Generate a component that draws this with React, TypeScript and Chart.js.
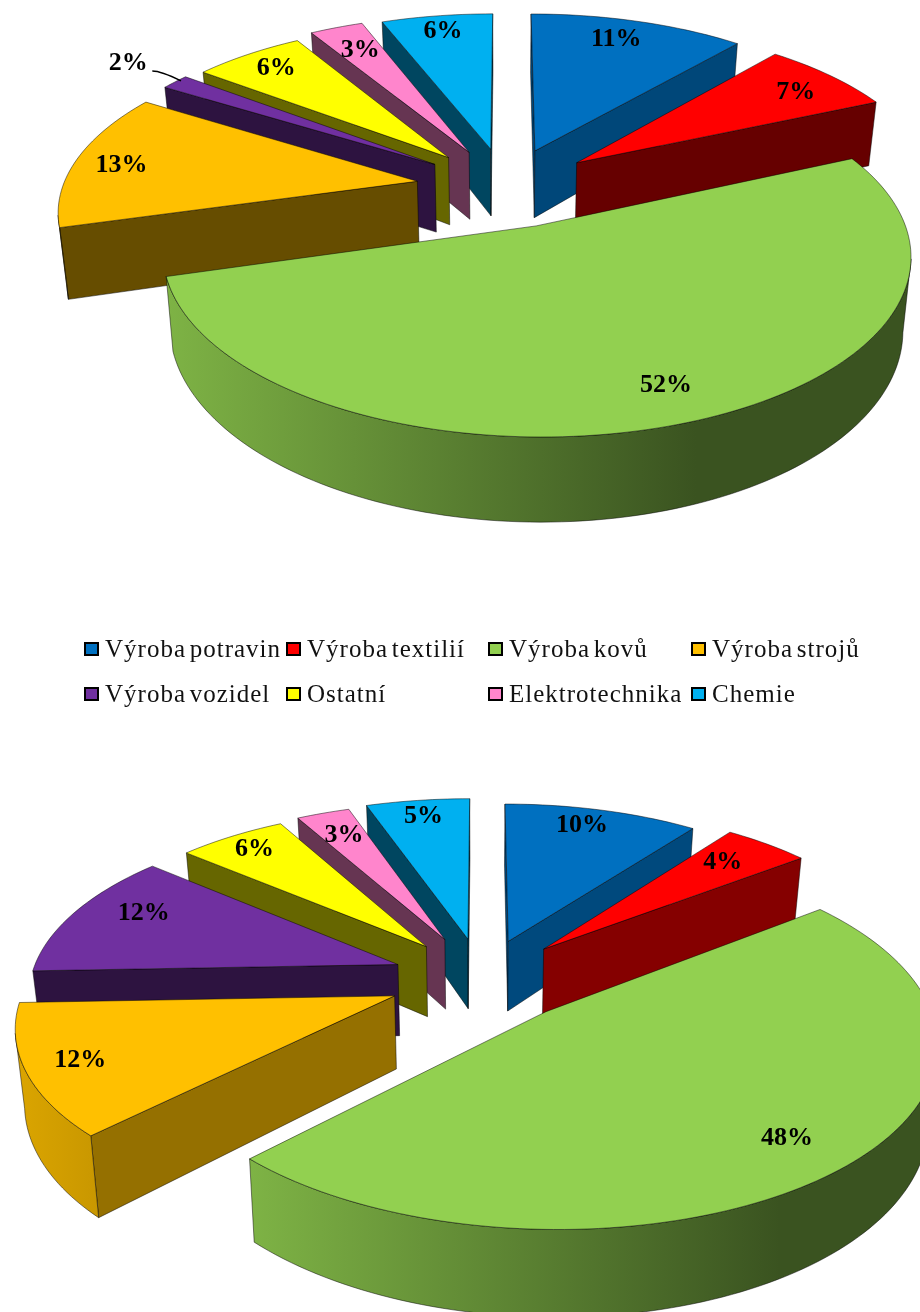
import React, { useEffect, useRef } from "react";
import { Chart, registerables } from "chart.js";

Chart.register(...registerables);

const categories = ["Výroba potravin", "Výroba textilií", "Výroba kovů", "Výroba strojů", "Výroba vozidel", "Ostatní", "Elektrotechnika", "Chemie"];
const valuesTop = [11.3, 7.1, 52.2, 13.2, 1.5, 6, 2.8, 5.9];
const valuesBottom = [10.2, 4.4, 47.8, 12, 11.8, 5.7, 2.8, 5.3];
const sliceColors = ["#0070C0", "#FF0000", "#92D050", "#FFC000", "#7030A0", "#FFFF00", "#FF85CC", "#00B0F0"];
const wallShadeTop = [0.63, 0.4, 0.4, 0.4, 0.4, 0.4, 0.4, 0.4];
const wallShadeBottom = [0.65, 0.52, 0.4, 0.585, 0.4, 0.4, 0.4, 0.4];
const labelRadiusTop = [0.84, 0.83, 0.84, 0.86, 1.22, 0.85, 0.8, 0.87];
const labelRadiusBottom = [0.86, 0.8, 0.83, 0.86, 0.81, 0.87, 0.81, 0.87];
const labelSpreadTop = [0.46, 0.57, 0.495, 0.47, 0.7, 0.51, 0.5, 0.5];
const labelSpreadBottom = [0.45, 0.45, 0.5, 0.5, 0.6, 0.5, 0.5, 0.5];
const explodeTop = [86, 90, 86, 90, 88, 88, 86, 86];
const explodeBottom = [86, 90, 94, 94, 90, 90, 94, 88];
const radiusTop = [1.01, 1, 0.99, 0.985, 0.99, 0.975, 1.01, 1];
const radiusBottom = [1, 1.025, 1.04, 1.02, 1.02, 1, 1, 1.03];

const SCALE = 360;
const TILT = 0.464;
const BASE_SHRINK = 0.98;

type Cfg = {
  cx: number;
  cy: number;
  perspective: number;
  depth: number;
  radiusLabel: number[];
  spread: number[];
  shade: number[];
  radius: number[];
  legend: boolean;
};

function rgb(hex: string): [number, number, number] {
  return [parseInt(hex.slice(1, 3), 16), parseInt(hex.slice(3, 5), 16), parseInt(hex.slice(5, 7), 16)];
}
function mul(hex: string, f: number) {
  const [r, g, b] = rgb(hex);
  return `rgb(${Math.round(r * f)},${Math.round(g * f)},${Math.round(b * f)})`;
}

function makePlugin(cfg: Cfg) {
  return {
    id: "pie3d",
    beforeDatasetsDraw(chart: any) {
      const ctx = chart.ctx as CanvasRenderingContext2D;
      const meta = chart.getDatasetMeta(0);
      const colors = chart.data.datasets[0].backgroundColor as string[];
      const project = (X: number, Z: number) => {
        const s = SCALE / (1 - cfg.perspective * Z);
        return { x: cfg.cx + X * s, y: cfg.cy + TILT * Z * s, s };
      };
      const lower = (p: { x: number; y: number; s: number }) => ({
        x: cfg.cx + (p.x - cfg.cx) * BASE_SHRINK,
        y: p.y + cfg.depth * p.s,
        s: p.s,
      });
      const slices = meta.data.map((arc: any, i: number) => {
        const a0 = arc.startAngle + Math.PI / 2;
        const a1 = arc.endAngle + Math.PI / 2;
        const mid = (a0 + a1) / 2;
        const off = (arc.options.offset as number) / SCALE;
        return { i, a0, a1, mid, off, ox: off * Math.sin(mid), oz: -off * Math.cos(mid) };
      });
      const order = [...slices].sort((a: any, b: any) => -Math.cos(a.mid) + Math.cos(b.mid));
      const pt = (sl: any, ang: number, r: number) => {
        const rr = r * cfg.radius[sl.i];
        return project(sl.ox + rr * Math.sin(ang), sl.oz - rr * Math.cos(ang));
      };
      const poly = (pts: { x: number; y: number }[], fill: any) => {
        ctx.beginPath();
        pts.forEach((p, k) => (k ? ctx.lineTo(p.x, p.y) : ctx.moveTo(p.x, p.y)));
        ctx.closePath();
        ctx.fillStyle = fill;
        ctx.fill();
        ctx.strokeStyle = "rgba(0,0,0,0.6)";
        ctx.lineWidth = 0.8;
        ctx.stroke();
      };
      order.forEach((sl: any) => {
        const color = colors[sl.i];
        const apex = pt(sl, 0, 0);
        const steps = Math.max(8, Math.ceil((sl.a1 - sl.a0) * 40));
        const outer: any[] = [];
        for (let k = 0; k <= steps; k++) outer.push(pt(sl, sl.a0 + ((sl.a1 - sl.a0) * k) / steps, 1));
        const first = outer[0];
        const last = outer[outer.length - 1];
        const flat = mul(color, cfg.shade[sl.i]);
        if (first.x < apex.x) poly([apex, first, lower(first), lower(apex)], flat);
        if (apex.x < last.x) poly([last, apex, lower(apex), lower(last)], flat);
        const run = outer.filter((p, k) => (k < outer.length - 1 ? outer[k + 1].x < p.x : outer[k - 1].x > p.x));
        if (run.length > 1) {
          const minX = Math.min(...run.map((p) => p.x));
          const grad = ctx.createLinearGradient(minX, 0, minX + 530, 0);
          grad.addColorStop(0, mul(color, 0.86));
          grad.addColorStop(1, mul(color, 0.4));
          poly([...run, ...[...run].reverse().map(lower)], grad);
        }
        poly([apex, ...outer], color);
      });
      // value labels
      ctx.font = 'bold 26px "Liberation Serif"';
      ctx.textAlign = "center";
      ctx.textBaseline = "middle";
      ctx.fillStyle = "#000";
      const total = (chart.data.datasets[0].data as number[]).reduce((a, b) => a + b, 0);
      slices.forEach((sl: any) => {
        const v = chart.data.datasets[0].data[sl.i] as number;
        const ang = sl.a0 + (sl.a1 - sl.a0) * cfg.spread[sl.i];
        const r = cfg.radiusLabel[sl.i];
        const p = pt(sl, ang, r);
        ctx.fillText(`${Math.round((v / total) * 100)}%`, p.x, p.y);
        if (r > 1) {
          const end = pt(sl, sl.mid, 1);
          ctx.beginPath();
          ctx.moveTo(p.x + 24, p.y + 8);
          ctx.quadraticCurveTo(end.x - 14, p.y + 8, end.x + 6, end.y - 1);
          ctx.strokeStyle = "#000";
          ctx.lineWidth = 1.4;
          ctx.stroke();
        }
      });
      if (cfg.legend) {
        const colX = [85, 287, 489, 692];
        const rowY = [649, 694];
        const labels = chart.data.labels as string[];
        ctx.font = '25px "Liberation Serif"';
        ctx.textAlign = "left";
        ctx.textBaseline = "alphabetic";
        (ctx as any).letterSpacing = "1px";
        (ctx as any).wordSpacing = "-3.5px";
        labels.forEach((lab, i) => {
          const x = colX[i % 4];
          const y = rowY[Math.floor(i / 4)];
          ctx.fillStyle = colors[i];
          ctx.fillRect(x, y - 6, 13, 12);
          ctx.strokeStyle = "#000";
          ctx.lineWidth = 2;
          ctx.strokeRect(x, y - 6, 13, 12);
          ctx.fillStyle = "#111";
          ctx.fillText(lab, x + 20, y + 8);
        });
        (ctx as any).letterSpacing = "0px";
        (ctx as any).wordSpacing = "0px";
      }
      return false;
    },
  };
}

function Pie({ values, explode, cfg, top, height }: { values: number[]; explode: number[]; cfg: Cfg; top: number; height: number }) {
  const ref = useRef<HTMLCanvasElement>(null);
  useEffect(() => {
    const chart = new Chart(ref.current as HTMLCanvasElement, {
      type: "pie",
      data: {
        labels: categories,
        datasets: [{ data: values, backgroundColor: sliceColors, offset: explode }],
      },
      options: {
        animation: false,
        responsive: false,
        plugins: { legend: { display: false }, tooltip: { enabled: false } },
      },
      plugins: [makePlugin(cfg)],
    } as any);
    return () => chart.destroy();
  }, []);
  return <canvas ref={ref} width={920} height={height} style={{ position: "absolute", left: 0, top, width: 920, height }} />;
}

export default function App() {
  return (
    <div style={{ position: "absolute", left: 0, top: 0, width: 920, height: 1312, overflow: "hidden", background: "#fff" }}>
      <Pie values={valuesTop} explode={explodeTop} top={0} height={740} cfg={{ cx: 506, cy: 187, perspective: 0.155, depth: 0.192, radiusLabel: labelRadiusTop, spread: labelSpreadTop, shade: wallShadeTop, radius: radiusTop, legend: true }} />
      <Pie values={valuesBottom} explode={explodeBottom} top={740} height={572} cfg={{ cx: 482, cy: 238, perspective: 0.145, depth: 0.2, radiusLabel: labelRadiusBottom, spread: labelSpreadBottom, shade: wallShadeBottom, radius: radiusBottom, legend: false }} />
    </div>
  );
}
